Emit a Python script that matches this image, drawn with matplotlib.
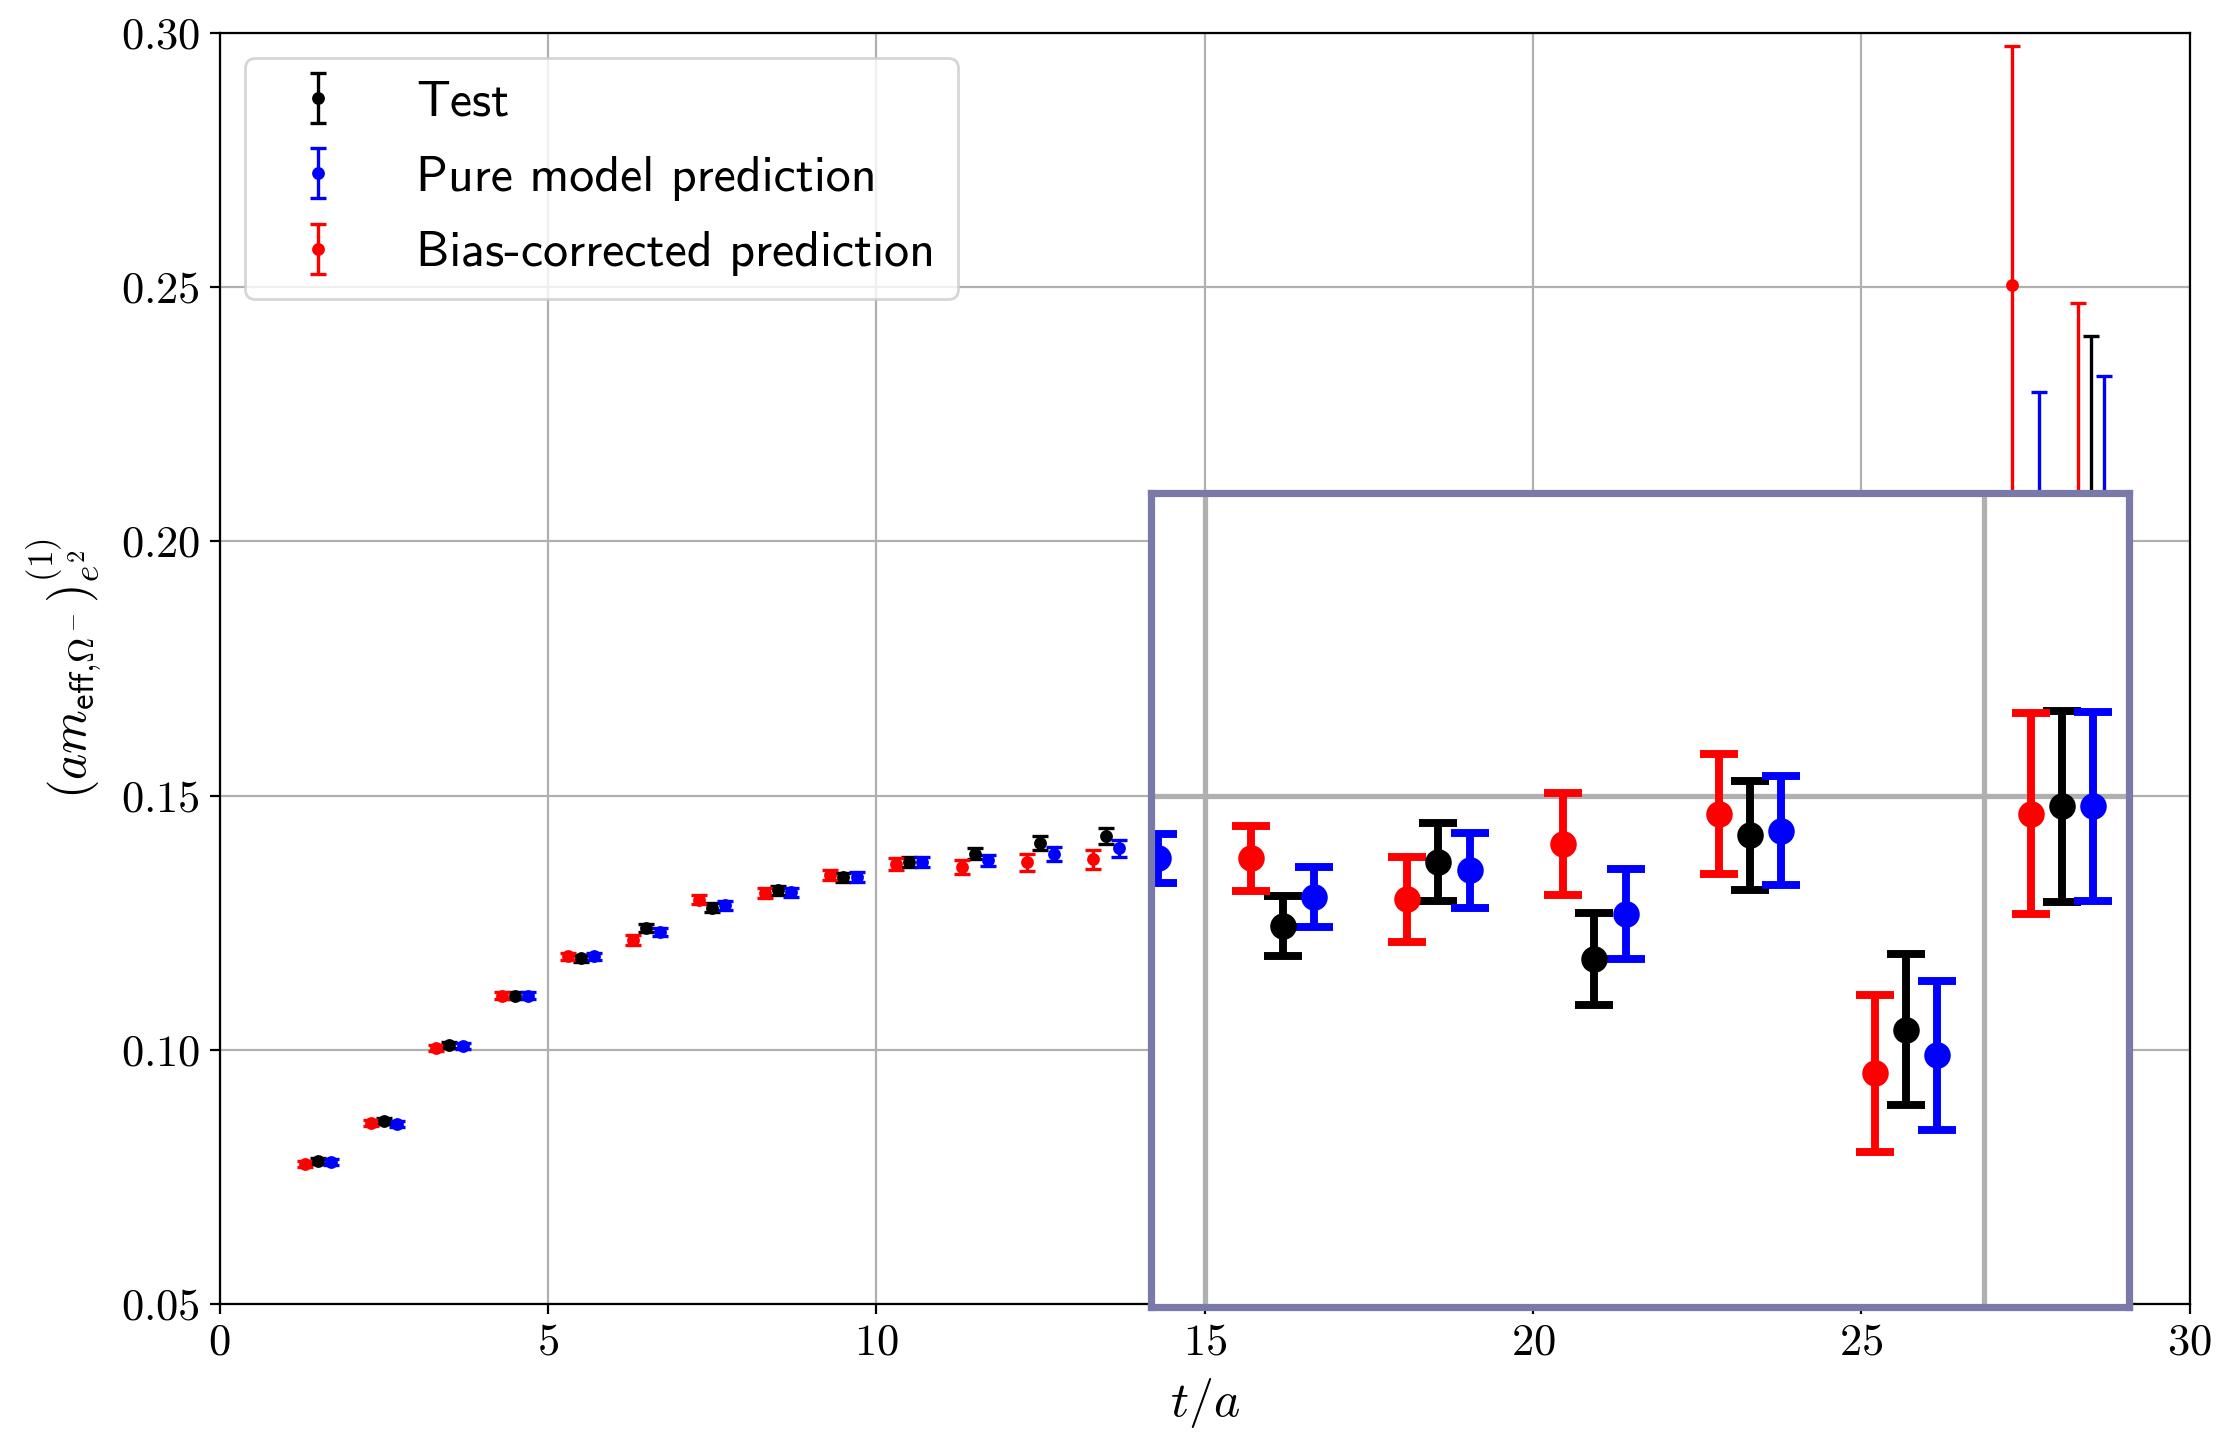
import numpy as np
import matplotlib
matplotlib.use("Agg")
import matplotlib.pyplot as plt
from matplotlib.ticker import MultipleLocator, FormatStrFormatter

plt.rcParams['mathtext.fontset'] = 'cm'
plt.rcParams['font.family'] = ['cmr10', 'DejaVu Sans']
plt.rcParams['axes.formatter.use_mathtext'] = True

# time slices (points are drawn at t + offset)
t = np.arange(1, 29)
nan = np.nan

# Test data
test_val = [0.0781, 0.0861, 0.1009, 0.1107, 0.1180, 0.1240, 0.1280, 0.1314, 0.1339, 0.1369,
            0.1386, 0.1407, 0.1420, nan, 0.1392, 0.1445, 0.1365, 0.1467, 0.1306, 0.1491,
            nan, nan, nan, nan, nan, nan, nan, 0.1850]
test_err = [0.0006, 0.0006, 0.0006, 0.00065, 0.00065, 0.0008, 0.0008, 0.0009, 0.0009, 0.0010,
            0.0011, 0.0014, 0.0016, nan, 0.00245, 0.0032, 0.0038, 0.00453, 0.00625, 0.00793,
            nan, nan, nan, nan, nan, nan, nan, 0.0554]

# pure model prediction
pure_val = [0.0780, 0.0854, 0.1008, 0.1107, 0.1184, 0.1232, 0.1284, 0.1310, 0.1340, 0.1369,
            0.1373, 0.1385, 0.1396, 0.1448, 0.1416, 0.1438, 0.1402, 0.1471, 0.1285, 0.1491,
            nan, nan, nan, nan, nan, nan, 0.1850, 0.1820]
pure_err = [0.0006, 0.0006, 0.0006, 0.00065, 0.00065, 0.0008, 0.0008, 0.0009, 0.0009, 0.0010,
            0.0011, 0.0014, 0.0016, 0.0020, 0.00245, 0.00313, 0.00376, 0.00453, 0.00616, 0.00783,
            nan, nan, nan, nan, nan, nan, 0.0444, 0.0505]

# bias-corrected prediction
bias_val = [0.0775, 0.0856, 0.1004, 0.1107, 0.1184, 0.1216, 0.1295, 0.1308, 0.1344, 0.1366,
            0.1359, 0.1369, 0.1375, nan, 0.1448, 0.1414, 0.1460, 0.1485, 0.1270, 0.1485,
            nan, nan, nan, nan, nan, nan, 0.2503, 0.1900]
bias_err = [0.0006, 0.0006, 0.0006, 0.00065, 0.00065, 0.0009, 0.0009, 0.0010, 0.00105, 0.0012,
            0.0014, 0.0017, 0.0019, nan, 0.00267, 0.00351, 0.00421, 0.00498, 0.00648, 0.00833,
            nan, nan, nan, nan, nan, nan, 0.0471, 0.0568]

series = [
    (test_val, test_err, 0.5, 'black', 'Test'),
    (pure_val, pure_err, 0.7, 'blue', 'Pure model prediction'),
    (bias_val, bias_err, 0.3, 'red', 'Bias-corrected prediction'),
]

fig = plt.figure(figsize=(11.115, 7.175), dpi=200)
ax = fig.add_axes([0.0988, 0.0911, 0.8862, 0.8862])

ms, elw, cs = 3.6, 1.2, 2.9
for val, err, off, col, lab in series:
    ax.errorbar(t + off, val, yerr=err, fmt='o', color=col, ms=ms,
                elinewidth=elw, capsize=cs, capthick=elw, label=lab)

ax.set_xlim(0, 30)
ax.set_ylim(0.05, 0.30)
ax.xaxis.set_major_locator(MultipleLocator(5))
ax.yaxis.set_major_locator(MultipleLocator(0.05))
ax.xaxis.set_major_formatter(FormatStrFormatter(r'$%d$'))
ax.yaxis.set_major_formatter(FormatStrFormatter(r'$%.2f$'))
ax.tick_params(labelsize=16)
ax.grid(True, color='#b0b0b0', lw=0.8)
ax.set_axisbelow(True)
ax.set_xlabel(r'$t/a$', fontsize=18, labelpad=4.5)
ax.set_ylabel(r'$(am_{\mathsf{eff}{,}\Omega^-})^{(1)}_{e^2}$', fontsize=18, labelpad=6)

ax.legend(loc='upper left', prop={'family': 'cmss10', 'size': 18},
          handlelength=2.04, handletextpad=0.94, labelspacing=0.61, borderpad=0.45)

# zoomed view of the late time slices
zoom = 2.374
cx, cy = 15.0, 0.15
bx0, bx1, by0, by1 = 14.18, 29.08, 0.0495, 0.2095
axins = ax.inset_axes([bx0, by0, bx1 - bx0, by1 - by0], transform=ax.transData)
for val, err, off, col, lab in series:
    axins.errorbar(t + off, val, yerr=err, fmt='o', color=col, ms=ms * zoom,
                   elinewidth=elw * zoom, capsize=cs * zoom, capthick=elw * zoom)
axins.set_xlim(cx + (bx0 - cx) / zoom, cx + (bx1 - cx) / zoom)
axins.set_ylim(cy + (by0 - cy) / zoom, cy + (by1 - cy) / zoom)
axins.xaxis.set_major_locator(MultipleLocator(5))
axins.yaxis.set_major_locator(MultipleLocator(0.05))
axins.tick_params(length=0, labelbottom=False, labelleft=False)
axins.grid(True, color='#b0b0b0', lw=0.8 * zoom)
axins.set_axisbelow(True)
for sp in axins.spines.values():
    sp.set_edgecolor('#7a7aaa')
    sp.set_linewidth(2.6)

fig.savefig('out.png', dpi=200)
